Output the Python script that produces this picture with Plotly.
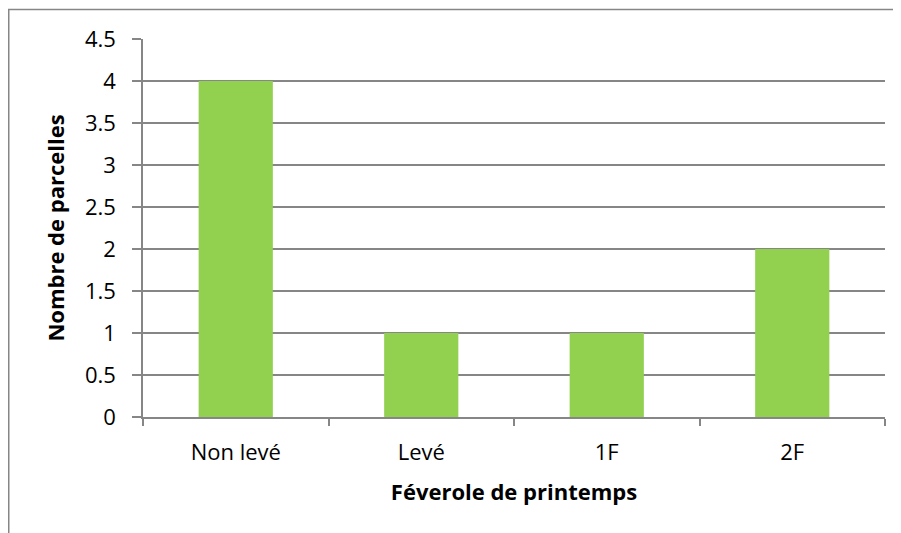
import plotly.graph_objects as go

categories = ["Non levé", "Levé", "1F", "2F"]
values = [4, 1, 1, 2]
y_ticks = [0, 0.5, 1, 1.5, 2, 2.5, 3, 3.5, 4, 4.5]
y_tick_labels = ["0", "0.5", "1", "1.5", "2", "2.5", "3", "3.5", "4", "4.5"]

FONT = "Open Sans"
GRID = "#868686"
FS = 22

fig = go.Figure(go.Bar(x=categories, y=values, marker_color="#92D050",
                       marker_line_width=0))

# page body has an 8px margin; figure sized to fit the window
W, H = 893, 525
L, R, T, B = 135, 16, 31, 116
pw, ph = W - L - R, H - T - B

fig.update_layout(
    width=W, height=H,
    margin=dict(l=L, r=R, t=T, b=B),
    paper_bgcolor="white", plot_bgcolor="white",
    bargap=0.6,
    showlegend=False,
    font=dict(family=FONT, color="black", size=FS),
    shapes=[dict(type="rect", xref="paper", yref="paper",
                 x0=(0.75 - L) / pw, x1=(W + 20 - L) / pw,
                 y0=(H - B - (H + 20)) / ph, y1=(H - B - 1.5) / ph,
                 line=dict(color="#868686", width=1.5), fillcolor="rgba(0,0,0,0)",
                 layer="below")],
)
fig.update_xaxes(
    type="category",
    showgrid=False,
    showline=True, linecolor=GRID, linewidth=1.5,
    ticks="outside", tickson="boundaries", ticklen=7, tickcolor=GRID, tickwidth=1.5,
    tickfont=dict(family=FONT, size=FS),
    ticklabelstandoff=15,
    title=dict(text="<b>Féverole de printemps</b>", font=dict(family=FONT, size=FS), standoff=19),
)
fig.update_yaxes(
    range=[0, 4.5],
    tickvals=y_ticks, ticktext=y_tick_labels,
    showgrid=True, gridcolor=GRID, gridwidth=1.5,
    showline=True, linecolor=GRID, linewidth=1.5,
    ticks="outside", ticklen=9, tickcolor=GRID, tickwidth=1.5,
    tickfont=dict(family=FONT, size=FS),
    ticklabelstandoff=12,
    zeroline=False,
    title=dict(text="<b>Nombre de parcelles</b>", font=dict(family=FONT, size=FS), standoff=14),
)

fig.write_html("out.html")
